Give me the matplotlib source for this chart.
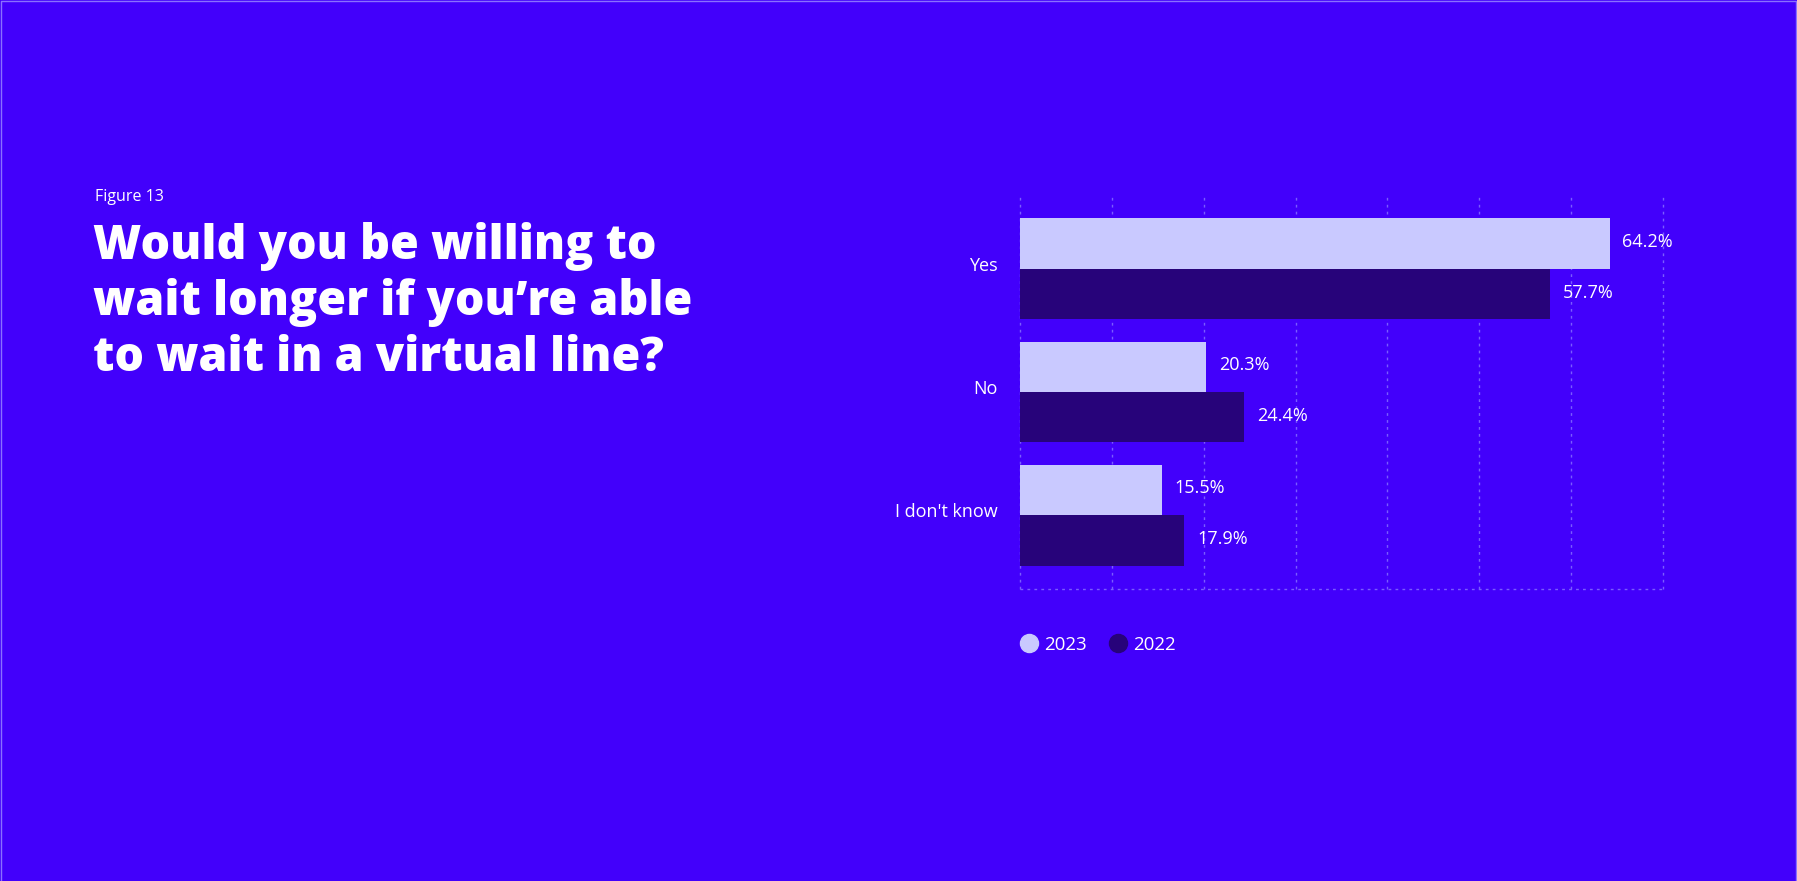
import matplotlib.pyplot as plt
import matplotlib.transforms as mtransforms
from matplotlib.lines import Line2D
import numpy as np

categories = ['Yes', 'No', "I don't know"]
values_2023 = [64.2, 20.3, 15.5]
values_2022 = [57.7, 24.4, 17.9]
series_names = ['2023', '2022']

bg = '#4200FB'
light = '#C9C9FF'
dark = '#27037A'
grid_col = '#7A5CFF'

fig = plt.figure(figsize=(17.97, 8.81), dpi=100)
fig.patch.set_facecolor(bg)

# thin lighter frame at the picture's left, top and right edges
fig.add_artist(Line2D([0.0003, 0.0003, 0.9997, 0.9997], [0, 0.9994, 0.9994, 0],
                      transform=fig.transFigure, color='#8A70FF', lw=1))

ax = fig.add_axes([1020 / 1797, 1 - 589 / 881, 643 / 1797, 394 / 881])
ax.set_facecolor(bg)

y = np.arange(len(categories))
h = 0.41
b1 = ax.barh(y - h / 2, values_2023, height=h, color=light, zorder=3)
b2 = ax.barh(y + h / 2, values_2022, height=h, color=dark, zorder=3)

for bars, vals in [(b1, values_2023), (b2, values_2022)]:
    for bar, v in zip(bars, vals):
        ax.annotate('{:.1f}%'.format(v), xy=(v, bar.get_y() + bar.get_height() / 2),
                    xytext=(9, 1), textcoords='offset points', va='center', ha='left',
                    color='white', fontsize=13, family='Open Sans')

ax.set_xlim(0, 70)
ax.set_ylim(2.6, -0.6)
for gx in range(0, 71, 10):
    ax.axvline(gx, color=grid_col, lw=1, ls=(0, (2, 3)), zorder=1, clip_on=False)
ax.axhline(2.6, color=grid_col, lw=1, ls=(0, (2, 3)), zorder=1, clip_on=False)

for s in ax.spines.values():
    s.set_visible(False)
ax.set_xticks([])
ax.set_yticks(y)
ax.set_yticklabels(categories, color='white', fontsize=13, family='Open Sans')
ax.tick_params(axis='y', length=0, pad=16)
# labels sit a little above the group centre in the original
shift = mtransforms.ScaledTranslation(0, 5 / 100, fig.dpi_scale_trans)
for lbl in ax.get_yticklabels():
    lbl.set_transform(lbl.get_transform() + shift)

handles = [Line2D([], [], marker='o', ls='', markersize=13, markerfacecolor=c, markeredgecolor=c)
           for c in (light, dark)]
fig.legend(handles, series_names, loc='center left', bbox_to_anchor=(1003 / 1797, 1 - 645 / 881),
           frameon=False, ncol=2, handletextpad=0.3, columnspacing=1.15, handlelength=1.0,
           labelcolor='white', prop={'family': 'Open Sans', 'size': 13.5})

fig.text(95 / 1797, 1 - 201 / 881, 'Figure 13', color='white', fontsize=11.5, family='Open Sans',
         va='baseline', ha='left')
title_lines = ['Would you be willing to', 'wait longer if you\u2019re able', 'to wait in a virtual line?']
baselines = [259, 315, 371]
for line, base in zip(title_lines, baselines):
    fig.text(93 / 1797, 1 - base / 881, line, color='white', fontsize=33.5, family='Open Sans',
             fontweight='heavy', va='baseline', ha='left')

fig.savefig('out.png', dpi=100, facecolor=bg)
